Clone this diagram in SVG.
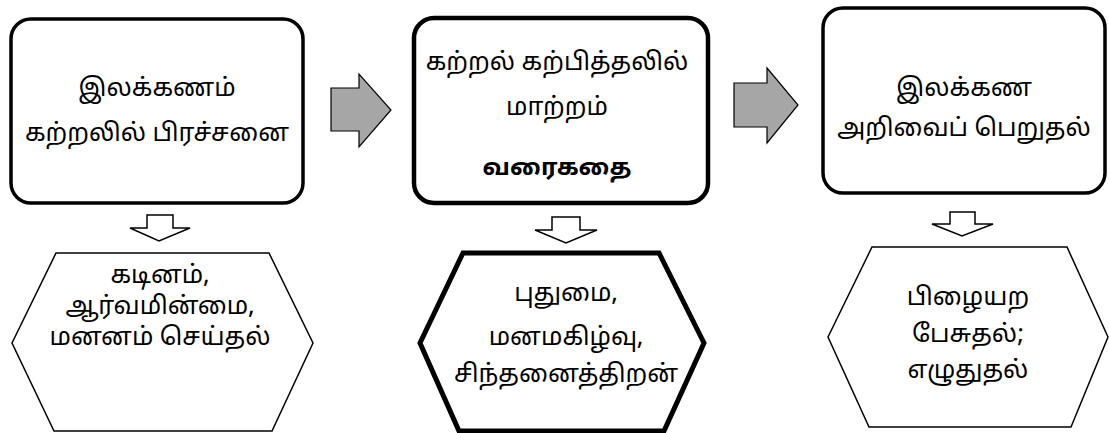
<svg xmlns="http://www.w3.org/2000/svg" width="1109" height="433" viewBox="0 0 1109 433">
<style>
text{font-family:"Noto Sans Tamil","Latha","Lohit Tamil","Noto Sans",sans-serif;font-size:25px;fill:#000;text-anchor:middle}
.b{fill:#fff;stroke:#000;stroke-width:3.5}
.b2{fill:#fff;stroke:#000;stroke-width:4.5}
.h{fill:#fff;stroke:#000;stroke-width:1.5}
.h2{fill:#fff;stroke:#000;stroke-width:5}
.ra{fill:#a6a6a6;stroke:#000;stroke-width:1.2}
.da{fill:#fff;stroke:#000;stroke-width:1.5}
.bold{font-weight:bold;font-size:24px}
</style>
<rect width="1109" height="433" fill="#fff"/>
<g id="box1"><rect class="b" x="11" y="19" width="292" height="184" rx="20"/>
<text x="157" y="96">இலக்கணம்</text><text x="157" y="141">கற்றலில் பிரச்சனை</text></g>
<g id="box2"><rect class="b2" x="414" y="18" width="294" height="185" rx="20"/>
<text x="557" y="70">கற்றல் கற்பித்தலில்</text><text x="557" y="115">மாற்றம்</text><text class="bold" x="557" y="175">வரைகதை</text></g>
<g id="box3"><rect class="b" x="823" y="8" width="282" height="185" rx="20"/>
<text x="964" y="96">இலக்கண</text><text x="964" y="136">அறிவைப் பெறுதல்</text></g>
<g id="hex1"><polygon class="h" points="12,343 56,253 269,253 313,343 272,431 54,431"/>
<text x="160" y="283">கடினம்,</text><text x="160" y="314">ஆர்வமின்மை,</text><text x="160" y="345">மனனம்  செய்தல்</text></g>
<g id="hex2"><polygon class="h2" points="420,343 463,253 659,253 704,343 664,431 459,431"/>
<text x="566" y="301">புதுமை,</text><text x="566" y="345">மனமகிழ்வு,</text><text x="566" y="382">சிந்தனைத்திறன்</text></g>
<g id="hex3"><polygon class="h" points="828,337 872,247 1067,247 1108,337 1071,427 869,427"/>
<text x="968" y="305">பிழையற</text><text x="968" y="342">பேசுதல்;</text><text x="968" y="378">எழுதுதல்</text></g>
<g id="connectors">
<polygon class="ra" points="331,88 359,88 359,74 391,110 359,147 359,131 331,131"/>
<polygon class="ra" points="734,83 767,83 767,68 798,105 767,143 767,127 734,127"/>
<polygon class="da" points="147,215 173,215 173,228 190,228 159,241 130,228 147,228"/>
<polygon class="da" points="552,217 580,217 580,230 597,230 566,243 535,230 552,230"/>
<polygon class="da" points="950,212 975,212 975,224 993,224 962,236 932,224 950,224"/>
</g>
</svg>
